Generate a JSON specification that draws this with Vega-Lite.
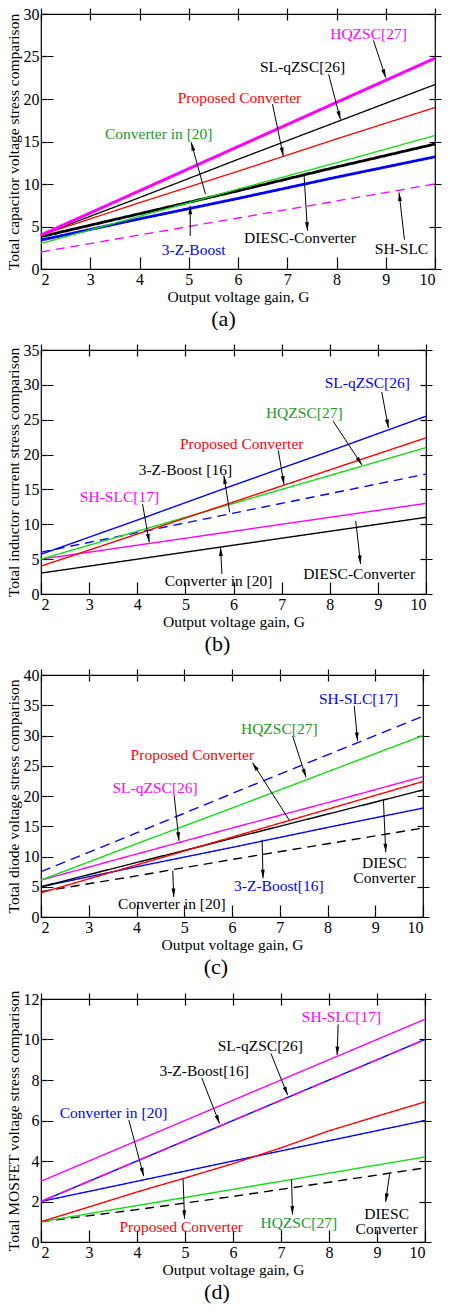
{
  "$schema": "https://vega.github.io/schema/vega-lite/v6.json",
  "padding": {"left": 5, "top": 5, "right": 5, "bottom": 5},
  "background": "white",
  "config": {
    "font": "Liberation Serif",
    "view": {"stroke": "black", "strokeWidth": 1.2},
    "axis": {"domain": false, "tickColor": "black", "tickSize": 6, "offset": -6, "tickWidth": 1.2, "gridColor": "black", "gridWidth": 1.2, "gridOpacity": 1, "labelFont": "Liberation Serif", "labelFontSize": 16, "labelColor": "black", "titleFont": "Liberation Serif", "titleFontSize": 15.5, "titleFontWeight": "normal", "titleColor": "black", "labelPadding": 2, "titlePadding": 2},
    "title": {"font": "Liberation Serif", "fontSize": 22, "fontWeight": "normal", "color": "black", "orient": "bottom", "anchor": "middle", "frame": "bounds", "offset": 4},
    "concat": {"spacing": 10}
  },
  "datasets": {
    "a_lines": [
      {"s": "SH-SLC", "G": 2, "v": 2}, {"s": "SH-SLC", "G": 4, "v": 4}, {"s": "SH-SLC", "G": 6, "v": 6}, {"s": "SH-SLC", "G": 8, "v": 8}, {"s": "SH-SLC", "G": 10, "v": 10},
      {"s": "3-Z-Boost", "G": 2, "v": 3.4}, {"s": "3-Z-Boost", "G": 4, "v": 5.9}, {"s": "3-Z-Boost", "G": 6, "v": 8.3}, {"s": "3-Z-Boost", "G": 8, "v": 10.8}, {"s": "3-Z-Boost", "G": 10, "v": 13.2},
      {"s": "DIESC", "G": 2, "v": 3.8}, {"s": "DIESC", "G": 4, "v": 6.5}, {"s": "DIESC", "G": 6, "v": 9.2}, {"s": "DIESC", "G": 8, "v": 12.0}, {"s": "DIESC", "G": 10, "v": 14.7},
      {"s": "Conv20", "G": 2, "v": 3.0}, {"s": "Conv20", "G": 4, "v": 6.2}, {"s": "Conv20", "G": 6, "v": 9.4}, {"s": "Conv20", "G": 8, "v": 12.5}, {"s": "Conv20", "G": 10, "v": 15.7},
      {"s": "Proposed", "G": 2, "v": 4.0}, {"s": "Proposed", "G": 4, "v": 7.8}, {"s": "Proposed", "G": 6, "v": 11.5}, {"s": "Proposed", "G": 8, "v": 15.3}, {"s": "Proposed", "G": 10, "v": 19.0},
      {"s": "SL-qZSC", "G": 2, "v": 4.0}, {"s": "SL-qZSC", "G": 4, "v": 8.4}, {"s": "SL-qZSC", "G": 6, "v": 12.9}, {"s": "SL-qZSC", "G": 8, "v": 17.3}, {"s": "SL-qZSC", "G": 10, "v": 21.7},
      {"s": "HQZSC", "G": 2, "v": 4.0}, {"s": "HQZSC", "G": 4, "v": 9.2}, {"s": "HQZSC", "G": 6, "v": 14.4}, {"s": "HQZSC", "G": 8, "v": 19.6}, {"s": "HQZSC", "G": 10, "v": 24.8}
    ],
    "a_ann": [
      {"lab": "HQZSC[27]", "lx": 8.65, "ly": 27.7, "x1": 8.75, "y1": 26.9, "x2": 9.0, "y2": 22.5},
      {"lab": "SL-qZSC[26]", "lx": 7.31, "ly": 23.8, "x1": 7.84, "y1": 22.9, "x2": 8.08, "y2": 17.6},
      {"lab": "Proposed Converter", "lx": 6.03, "ly": 20.1, "x1": 6.70, "y1": 19.4, "x2": 6.92, "y2": 13.3},
      {"lab": "Converter in [20]", "lx": 4.39, "ly": 15.9, "x1": 5.34, "y1": 8.8, "x2": 5.05, "y2": 14.9},
      {"lab": "3-Z-Boost", "lx": 5.1, "ly": 2.2, "x1": 5.03, "y1": 3.9, "x2": 5.03, "y2": 7.45},
      {"lab": "DIESC-Converter", "lx": 7.26, "ly": 3.65, "x1": 7.34, "y1": 11.2, "x2": 7.41, "y2": 4.5},
      {"lab": "SH-SLC", "lx": 9.32, "ly": 2.4, "x1": 9.38, "y1": 3.45, "x2": 9.27, "y2": 9.0}
    ],
    "b_lines": [
      {"s": "Conv20", "G": 2, "v": 3}, {"s": "Conv20", "G": 4, "v": 5}, {"s": "Conv20", "G": 6, "v": 7}, {"s": "Conv20", "G": 8, "v": 9}, {"s": "Conv20", "G": 10, "v": 11},
      {"s": "SH-SLC", "G": 2, "v": 5}, {"s": "SH-SLC", "G": 4, "v": 7}, {"s": "SH-SLC", "G": 6, "v": 9}, {"s": "SH-SLC", "G": 8, "v": 11}, {"s": "SH-SLC", "G": 10, "v": 13},
      {"s": "3-Z-Boost", "G": 2, "v": 6.0}, {"s": "3-Z-Boost", "G": 4, "v": 8.8}, {"s": "3-Z-Boost", "G": 6, "v": 11.6}, {"s": "3-Z-Boost", "G": 8, "v": 14.4}, {"s": "3-Z-Boost", "G": 10, "v": 17.2},
      {"s": "HQZSC", "G": 2, "v": 5.0}, {"s": "HQZSC", "G": 4, "v": 9.0}, {"s": "HQZSC", "G": 6, "v": 13.0}, {"s": "HQZSC", "G": 8, "v": 17.0}, {"s": "HQZSC", "G": 10, "v": 21.0},
      {"s": "Proposed", "G": 2, "v": 4.0}, {"s": "Proposed", "G": 4, "v": 8.6}, {"s": "Proposed", "G": 6, "v": 13.2}, {"s": "Proposed", "G": 8, "v": 17.8}, {"s": "Proposed", "G": 10, "v": 22.4},
      {"s": "SL-qZSC", "G": 2, "v": 5.7}, {"s": "SL-qZSC", "G": 4, "v": 10.6}, {"s": "SL-qZSC", "G": 6, "v": 15.6}, {"s": "SL-qZSC", "G": 8, "v": 20.5}, {"s": "SL-qZSC", "G": 10, "v": 25.5}
    ],
    "b_ann": [
      {"lab": "SL-qZSC[26]", "lx": 8.78, "ly": 30.2, "x1": 9.08, "y1": 29.0, "x2": 9.22, "y2": 23.8},
      {"lab": "HQZSC[27]", "lx": 7.47, "ly": 25.9, "x1": 8.07, "y1": 24.8, "x2": 8.67, "y2": 18.5},
      {"lab": "Proposed Converter", "lx": 6.17, "ly": 21.5, "x1": 6.93, "y1": 20.6, "x2": 7.05, "y2": 15.7},
      {"lab": "3-Z-Boost [16]", "lx": 5.0, "ly": 17.8, "x1": 5.92, "y1": 11.7, "x2": 5.80, "y2": 17.0},
      {"lab": "SH-SLC[17]", "lx": 3.63, "ly": 13.9, "x1": 4.11, "y1": 12.9, "x2": 4.25, "y2": 7.4},
      {"lab": "Converter in [20]", "lx": 5.69, "ly": 1.9, "x1": 5.76, "y1": 2.87, "x2": 5.73, "y2": 6.7},
      {"lab": "DIESC-Converter", "lx": 8.61, "ly": 2.87, "x1": 8.54, "y1": 10.5, "x2": 8.64, "y2": 4.3}
    ],
    "c_lines": [
      {"s": "Conv20", "G": 2, "v": 4.2}, {"s": "Conv20", "G": 4, "v": 6.8}, {"s": "Conv20", "G": 6, "v": 9.5}, {"s": "Conv20", "G": 8, "v": 12.1}, {"s": "Conv20", "G": 10, "v": 14.7},
      {"s": "3-Z-Boost", "G": 2, "v": 5.0}, {"s": "3-Z-Boost", "G": 4, "v": 8.3}, {"s": "3-Z-Boost", "G": 6, "v": 11.5}, {"s": "3-Z-Boost", "G": 8, "v": 14.8}, {"s": "3-Z-Boost", "G": 10, "v": 18.0},
      {"s": "DIESC", "G": 2, "v": 5}, {"s": "DIESC", "G": 4, "v": 9}, {"s": "DIESC", "G": 6, "v": 13}, {"s": "DIESC", "G": 8, "v": 17}, {"s": "DIESC", "G": 10, "v": 21},
      {"s": "Proposed", "G": 2, "v": 4.0}, {"s": "Proposed", "G": 4, "v": 8.6}, {"s": "Proposed", "G": 6, "v": 13.2}, {"s": "Proposed", "G": 8, "v": 17.8}, {"s": "Proposed", "G": 10, "v": 22.4},
      {"s": "SL-qZSC", "G": 2, "v": 6.1}, {"s": "SL-qZSC", "G": 4, "v": 10.4}, {"s": "SL-qZSC", "G": 6, "v": 14.7}, {"s": "SL-qZSC", "G": 8, "v": 18.9}, {"s": "SL-qZSC", "G": 10, "v": 23.2},
      {"s": "HQZSC", "G": 2, "v": 6.1}, {"s": "HQZSC", "G": 4, "v": 12.1}, {"s": "HQZSC", "G": 6, "v": 18.0}, {"s": "HQZSC", "G": 8, "v": 24.0}, {"s": "HQZSC", "G": 10, "v": 30.0},
      {"s": "SH-SLC", "G": 2, "v": 7.5}, {"s": "SH-SLC", "G": 4, "v": 13.9}, {"s": "SH-SLC", "G": 6, "v": 20.4}, {"s": "SH-SLC", "G": 8, "v": 26.8}, {"s": "SH-SLC", "G": 10, "v": 33.2}
    ],
    "c_ann": [
      {"lab": "SH-SLC[17]", "lx": 8.65, "ly": 36.0, "x1": 8.56, "y1": 34.9, "x2": 8.63, "y2": 29.1},
      {"lab": "HQZSC[27]", "lx": 6.99, "ly": 31.1, "x1": 7.27, "y1": 29.9, "x2": 7.55, "y2": 23.1},
      {"lab": "Proposed Converter", "lx": 5.17, "ly": 26.7, "x1": 7.2, "y1": 16.0, "x2": 6.43, "y2": 25.5},
      {"lab": "SL-qZSC[26]", "lx": 4.39, "ly": 21.4, "x1": 4.79, "y1": 20.0, "x2": 4.89, "y2": 12.6},
      {"lab": "3-Z-Boost[16]", "lx": 6.98, "ly": 5.1, "x1": 6.63, "y1": 12.8, "x2": 6.65, "y2": 6.4},
      {"lab": "Converter in [20]", "lx": 4.74, "ly": 2.2, "x1": 4.76, "y1": 7.7, "x2": 4.78, "y2": 3.3},
      {"lab": "DIESC\nConverter", "lx": 9.19, "ly": 9.0, "x1": 9.17, "y1": 19.4, "x2": 9.22, "y2": 10.7}
    ],
    "d_lines": [
      {"s": "DIESC", "G": 2, "v": 1.0}, {"s": "DIESC", "G": 4, "v": 1.6}, {"s": "DIESC", "G": 6, "v": 2.25}, {"s": "DIESC", "G": 8, "v": 2.95}, {"s": "DIESC", "G": 10, "v": 3.66},
      {"s": "HQZSC", "G": 2, "v": 1.0}, {"s": "HQZSC", "G": 4, "v": 1.8}, {"s": "HQZSC", "G": 6, "v": 2.6}, {"s": "HQZSC", "G": 8, "v": 3.4}, {"s": "HQZSC", "G": 10, "v": 4.2},
      {"s": "Conv20", "G": 2, "v": 2}, {"s": "Conv20", "G": 4, "v": 3}, {"s": "Conv20", "G": 6, "v": 4}, {"s": "Conv20", "G": 8, "v": 5}, {"s": "Conv20", "G": 10, "v": 6},
      {"s": "Proposed", "G": 2, "v": 1.0}, {"s": "Proposed", "G": 3, "v": 1.73}, {"s": "Proposed", "G": 4, "v": 2.47}, {"s": "Proposed", "G": 5, "v": 3.16}, {"s": "Proposed", "G": 6, "v": 3.87}, {"s": "Proposed", "G": 7, "v": 4.65}, {"s": "Proposed", "G": 8, "v": 5.49}, {"s": "Proposed", "G": 9, "v": 6.21}, {"s": "Proposed", "G": 10, "v": 6.92},
      {"s": "3-Z-Boost", "G": 2, "v": 2}, {"s": "3-Z-Boost", "G": 4, "v": 4}, {"s": "3-Z-Boost", "G": 6, "v": 6}, {"s": "3-Z-Boost", "G": 8, "v": 8}, {"s": "3-Z-Boost", "G": 10, "v": 10},
      {"s": "SL-qZSC", "G": 2, "v": 2}, {"s": "SL-qZSC", "G": 4, "v": 4}, {"s": "SL-qZSC", "G": 6, "v": 6}, {"s": "SL-qZSC", "G": 8, "v": 8}, {"s": "SL-qZSC", "G": 10, "v": 10},
      {"s": "SH-SLC", "G": 2, "v": 3}, {"s": "SH-SLC", "G": 4, "v": 5}, {"s": "SH-SLC", "G": 6, "v": 7}, {"s": "SH-SLC", "G": 8, "v": 9}, {"s": "SH-SLC", "G": 10, "v": 11}
    ],
    "d_ann": [
      {"lab": "SH-SLC[17]", "lx": 8.26, "ly": 11.1, "x1": 8.19, "y1": 10.75, "x2": 8.17, "y2": 9.23},
      {"lab": "SL-qZSC[26]", "lx": 6.57, "ly": 9.68, "x1": 6.79, "y1": 9.31, "x2": 7.14, "y2": 7.25},
      {"lab": "3-Z-Boost[16]", "lx": 5.4, "ly": 8.44, "x1": 5.35, "y1": 8.1, "x2": 5.72, "y2": 5.85},
      {"lab": "Converter in [20]", "lx": 3.51, "ly": 6.38, "x1": 3.83, "y1": 6.02, "x2": 4.14, "y2": 3.25},
      {"lab": "Proposed Converter", "lx": 4.92, "ly": 0.74, "x1": 4.96, "y1": 3.13, "x2": 4.99, "y2": 1.15},
      {"lab": "HQZSC[27]", "lx": 7.37, "ly": 0.94, "x1": 7.22, "y1": 3.1, "x2": 7.24, "y2": 1.35},
      {"lab": "DIESC\nConverter", "lx": 9.2, "ly": 1.4, "x1": 9.27, "y1": 3.46, "x2": 9.18, "y2": 1.98}
    ]
  },
  "vconcat": [
    {
      "width": 394, "height": 255, "title": "(a)",
      "layer": [
        {"data": {"name": "a_lines"}, "mark": {"type": "line"},
         "encoding": {
           "x": {"field": "G", "type": "quantitative", "scale": {"domain": [2, 10], "nice": false}, "axis": {"title": "Output voltage gain, G", "values": [2, 3, 4, 5, 6, 7, 8, 9, 10], "orient": "bottom", "grid": true, "gridDash": [6, 243, 6, 3000]}},
           "y": {"field": "v", "type": "quantitative", "scale": {"domain": [0, 30], "nice": false}, "axis": {"title": "Total capacitor voltage stress comparison", "values": [0, 5, 10, 15, 20, 25, 30], "orient": "left", "grid": true, "gridDash": [6, 382, 6, 3000]}},
           "stroke": {"field": "s", "type": "nominal", "legend": null, "scale": {"domain": ["SH-SLC", "3-Z-Boost", "DIESC", "Conv20", "Proposed", "SL-qZSC", "HQZSC"], "range": ["#ff00ff", "#0000ff", "#000000", "#11dd11", "#ff0000", "#000000", "#ff00ff"]}},
           "strokeDash": {"field": "s", "type": "nominal", "legend": null, "scale": {"type": "ordinal", "domain": ["SH-SLC", "3-Z-Boost", "DIESC", "Conv20", "Proposed", "SL-qZSC", "HQZSC"], "range": [[9, 6], [1, 0], [1, 0], [1, 0], [1, 0], [1, 0], [1, 0]]}},
           "strokeWidth": {"field": "s", "type": "nominal", "legend": null, "scale": {"type": "ordinal", "domain": ["SH-SLC", "3-Z-Boost", "DIESC", "Conv20", "Proposed", "SL-qZSC", "HQZSC"], "range": [1.3, 2.8, 2.8, 1.3, 1.3, 1.3, 3]}}
         }},
        {"data": {"name": "a_ann"}, "mark": {"type": "rule", "color": "black", "strokeWidth": 1},
         "encoding": {"x": {"field": "x1", "type": "quantitative", "axis": null, "scale": {"domain": [2, 10], "nice": false}}, "y": {"field": "y1", "type": "quantitative", "axis": null, "scale": {"domain": [0, 30], "nice": false}}, "x2": {"field": "x2"}, "y2": {"field": "y2"}}},
        {"data": {"name": "a_ann"}, "transform": [{"calculate": "atan2((datum.x2-datum.x1)*49.25,(datum.y2-datum.y1)*8.5)*180/PI", "as": "ang"}],
         "mark": {"type": "point", "shape": "M0,0L-0.5,2.2L0.5,2.2Z", "filled": true, "color": "black", "size": 60, "opacity": 1},
         "encoding": {"x": {"field": "x2", "type": "quantitative", "axis": null, "scale": {"domain": [2, 10], "nice": false}}, "y": {"field": "y2", "type": "quantitative", "axis": null, "scale": {"domain": [0, 30], "nice": false}}, "angle": {"field": "ang", "type": "quantitative", "scale": null}}},
        {"data": {"name": "a_ann"}, "mark": {"type": "text", "align": "center", "baseline": "middle", "lineBreak": "\n", "font": "Liberation Serif", "fontSize": 15.5, "lineHeight": 16},
         "encoding": {
           "x": {"field": "lx", "type": "quantitative", "scale": {"domain": [2, 10], "nice": false}, "axis": {"orient": "top", "labels": false, "title": null, "values": [2, 3, 4, 5, 6, 7, 8, 9, 10]}},
           "y": {"field": "ly", "type": "quantitative", "scale": {"domain": [0, 30], "nice": false}, "axis": {"orient": "right", "labels": false, "title": null, "values": [0, 5, 10, 15, 20, 25, 30]}},
           "text": {"field": "lab"},
           "fill": {"field": "lab", "type": "nominal", "legend": null, "scale": {"domain": ["HQZSC[27]", "SL-qZSC[26]", "Proposed Converter", "Converter in [20]", "3-Z-Boost", "DIESC-Converter", "SH-SLC"], "range": ["#ff00ff", "#000000", "#ff0000", "#229922", "#0000ff", "#000000", "#000000"]}}
         }}
      ],
      "resolve": {"axis": {"x": "independent", "y": "independent"}}
    },
    {
      "width": 385, "height": 244, "title": "(b)",
      "layer": [
        {"data": {"name": "b_lines"}, "mark": {"type": "line"},
         "encoding": {
           "x": {"field": "G", "type": "quantitative", "scale": {"domain": [2, 10], "nice": false}, "axis": {"title": "Output voltage gain, G", "values": [2, 3, 4, 5, 6, 7, 8, 9, 10], "orient": "bottom", "grid": true, "gridDash": [6, 232, 6, 3000]}},
           "y": {"field": "v", "type": "quantitative", "scale": {"domain": [0, 35], "nice": false}, "axis": {"title": "Total inductor current stress comparison", "values": [0, 5, 10, 15, 20, 25, 30, 35], "orient": "left", "grid": true, "gridDash": [6, 373, 6, 3000]}},
           "stroke": {"field": "s", "type": "nominal", "legend": null, "scale": {"domain": ["Conv20", "SH-SLC", "3-Z-Boost", "HQZSC", "Proposed", "SL-qZSC"], "range": ["#000000", "#ff00ff", "#0000ff", "#11dd11", "#ff0000", "#0000ff"]}},
           "strokeDash": {"field": "s", "type": "nominal", "legend": null, "scale": {"type": "ordinal", "domain": ["Conv20", "SH-SLC", "3-Z-Boost", "HQZSC", "Proposed", "SL-qZSC"], "range": [[1, 0], [1, 0], [9, 6], [1, 0], [1, 0], [1, 0]]}},
           "strokeWidth": {"field": "s", "type": "nominal", "legend": null, "scale": {"type": "ordinal", "domain": ["Conv20", "SH-SLC", "3-Z-Boost", "HQZSC", "Proposed", "SL-qZSC"], "range": [1.4, 1.4, 1.4, 1.4, 1.4, 1.4]}}
         }},
        {"data": {"name": "b_ann"}, "mark": {"type": "rule", "color": "black", "strokeWidth": 1},
         "encoding": {"x": {"field": "x1", "type": "quantitative", "axis": null, "scale": {"domain": [2, 10], "nice": false}}, "y": {"field": "y1", "type": "quantitative", "axis": null, "scale": {"domain": [0, 35], "nice": false}}, "x2": {"field": "x2"}, "y2": {"field": "y2"}}},
        {"data": {"name": "b_ann"}, "transform": [{"calculate": "atan2((datum.x2-datum.x1)*48.1,(datum.y2-datum.y1)*6.97)*180/PI", "as": "ang"}],
         "mark": {"type": "point", "shape": "M0,0L-0.5,2.2L0.5,2.2Z", "filled": true, "color": "black", "size": 60, "opacity": 1},
         "encoding": {"x": {"field": "x2", "type": "quantitative", "axis": null, "scale": {"domain": [2, 10], "nice": false}}, "y": {"field": "y2", "type": "quantitative", "axis": null, "scale": {"domain": [0, 35], "nice": false}}, "angle": {"field": "ang", "type": "quantitative", "scale": null}}},
        {"data": {"name": "b_ann"}, "mark": {"type": "text", "align": "center", "baseline": "middle", "lineBreak": "\n", "font": "Liberation Serif", "fontSize": 15.5, "lineHeight": 16},
         "encoding": {
           "x": {"field": "lx", "type": "quantitative", "scale": {"domain": [2, 10], "nice": false}, "axis": {"orient": "top", "labels": false, "title": null, "values": [2, 3, 4, 5, 6, 7, 8, 9, 10]}},
           "y": {"field": "ly", "type": "quantitative", "scale": {"domain": [0, 35], "nice": false}, "axis": {"orient": "right", "labels": false, "title": null, "values": [0, 5, 10, 15, 20, 25, 30, 35]}},
           "text": {"field": "lab"},
           "fill": {"field": "lab", "type": "nominal", "legend": null, "scale": {"domain": ["SL-qZSC[26]", "HQZSC[27]", "Proposed Converter", "3-Z-Boost [16]", "SH-SLC[17]", "Converter in [20]", "DIESC-Converter"], "range": ["#0000ff", "#229922", "#ff0000", "#000000", "#ff00ff", "#000000", "#000000"]}}
         }}
      ],
      "resolve": {"axis": {"x": "independent", "y": "independent"}}
    },
    {
      "width": 382, "height": 242, "title": "(c)",
      "layer": [
        {"data": {"name": "c_lines"}, "mark": {"type": "line"},
         "encoding": {
           "x": {"field": "G", "type": "quantitative", "scale": {"domain": [2, 10], "nice": false}, "axis": {"title": "Output voltage gain, G", "values": [2, 3, 4, 5, 6, 7, 8, 9, 10], "orient": "bottom", "grid": true, "gridDash": [6, 230, 6, 3000]}},
           "y": {"field": "v", "type": "quantitative", "scale": {"domain": [0, 40], "nice": false}, "axis": {"title": "Total diode voltage stress comparison", "values": [0, 5, 10, 15, 20, 25, 30, 35, 40], "orient": "left", "grid": true, "gridDash": [6, 370, 6, 3000]}},
           "stroke": {"field": "s", "type": "nominal", "legend": null, "scale": {"domain": ["Conv20", "3-Z-Boost", "DIESC", "Proposed", "SL-qZSC", "HQZSC", "SH-SLC"], "range": ["#000000", "#0000ff", "#000000", "#ff0000", "#ff00ff", "#11dd11", "#0000ff"]}},
           "strokeDash": {"field": "s", "type": "nominal", "legend": null, "scale": {"type": "ordinal", "domain": ["Conv20", "3-Z-Boost", "DIESC", "Proposed", "SL-qZSC", "HQZSC", "SH-SLC"], "range": [[9, 6], [1, 0], [1, 0], [1, 0], [1, 0], [1, 0], [10, 6]]}},
           "strokeWidth": {"field": "s", "type": "nominal", "legend": null, "scale": {"type": "ordinal", "domain": ["Conv20", "3-Z-Boost", "DIESC", "Proposed", "SL-qZSC", "HQZSC", "SH-SLC"], "range": [1.4, 1.4, 1.4, 1.4, 1.4, 1.4, 1.4]}}
         }},
        {"data": {"name": "c_ann"}, "mark": {"type": "rule", "color": "black", "strokeWidth": 1},
         "encoding": {"x": {"field": "x1", "type": "quantitative", "axis": null, "scale": {"domain": [2, 10], "nice": false}}, "y": {"field": "y1", "type": "quantitative", "axis": null, "scale": {"domain": [0, 40], "nice": false}}, "x2": {"field": "x2"}, "y2": {"field": "y2"}}},
        {"data": {"name": "c_ann"}, "transform": [{"calculate": "atan2((datum.x2-datum.x1)*47.75,(datum.y2-datum.y1)*6.05)*180/PI", "as": "ang"}],
         "mark": {"type": "point", "shape": "M0,0L-0.5,2.2L0.5,2.2Z", "filled": true, "color": "black", "size": 60, "opacity": 1},
         "encoding": {"x": {"field": "x2", "type": "quantitative", "axis": null, "scale": {"domain": [2, 10], "nice": false}}, "y": {"field": "y2", "type": "quantitative", "axis": null, "scale": {"domain": [0, 40], "nice": false}}, "angle": {"field": "ang", "type": "quantitative", "scale": null}}},
        {"data": {"name": "c_ann"}, "mark": {"type": "text", "align": "center", "baseline": "middle", "lineBreak": "\n", "font": "Liberation Serif", "fontSize": 15.5, "lineHeight": 15},
         "encoding": {
           "x": {"field": "lx", "type": "quantitative", "scale": {"domain": [2, 10], "nice": false}, "axis": {"orient": "top", "labels": false, "title": null, "values": [2, 3, 4, 5, 6, 7, 8, 9, 10]}},
           "y": {"field": "ly", "type": "quantitative", "scale": {"domain": [0, 40], "nice": false}, "axis": {"orient": "right", "labels": false, "title": null, "values": [0, 5, 10, 15, 20, 25, 30, 35, 40]}},
           "text": {"field": "lab"},
           "fill": {"field": "lab", "type": "nominal", "legend": null, "scale": {"domain": ["SH-SLC[17]", "HQZSC[27]", "Proposed Converter", "SL-qZSC[26]", "3-Z-Boost[16]", "Converter in [20]", "DIESC\nConverter"], "range": ["#0000ff", "#229922", "#ff0000", "#ff00ff", "#0000ff", "#000000", "#000000"]}}
         }}
      ],
      "resolve": {"axis": {"x": "independent", "y": "independent"}}
    },
    {
      "width": 384, "height": 243, "title": "(d)",
      "layer": [
        {"data": {"name": "d_lines"}, "mark": {"type": "line"},
         "encoding": {
           "x": {"field": "G", "type": "quantitative", "scale": {"domain": [2, 10], "nice": false}, "axis": {"title": "Output voltage gain, G", "values": [2, 3, 4, 5, 6, 7, 8, 9, 10], "orient": "bottom", "grid": true, "gridDash": [6, 231, 6, 3000]}},
           "y": {"field": "v", "type": "quantitative", "scale": {"domain": [0, 12], "nice": false}, "axis": {"title": "Total MOSFET voltage stress comparison", "values": [0, 2, 4, 6, 8, 10, 12], "orient": "left", "grid": true, "gridDash": [6, 372, 6, 3000]}},
           "stroke": {"field": "s", "type": "nominal", "legend": null, "scale": {"domain": ["DIESC", "HQZSC", "Conv20", "Proposed", "3-Z-Boost", "SL-qZSC", "SH-SLC"], "range": ["#000000", "#11dd11", "#0000ff", "#ff0000", "#0000ff", "#ff00ff", "#ff00ff"]}},
           "strokeDash": {"field": "s", "type": "nominal", "legend": null, "scale": {"type": "ordinal", "domain": ["DIESC", "HQZSC", "Conv20", "Proposed", "3-Z-Boost", "SL-qZSC", "SH-SLC"], "range": [[9, 6], [1, 0], [1, 0], [1, 0], [1, 0], [14, 7], [1, 0]]}},
           "strokeWidth": {"field": "s", "type": "nominal", "legend": null, "scale": {"type": "ordinal", "domain": ["DIESC", "HQZSC", "Conv20", "Proposed", "3-Z-Boost", "SL-qZSC", "SH-SLC"], "range": [1.4, 1.4, 1.4, 1.4, 1.4, 1.4, 1.4]}}
         }},
        {"data": {"name": "d_ann"}, "mark": {"type": "rule", "color": "black", "strokeWidth": 1},
         "encoding": {"x": {"field": "x1", "type": "quantitative", "axis": null, "scale": {"domain": [2, 10], "nice": false}}, "y": {"field": "y1", "type": "quantitative", "axis": null, "scale": {"domain": [0, 12], "nice": false}}, "x2": {"field": "x2"}, "y2": {"field": "y2"}}},
        {"data": {"name": "d_ann"}, "transform": [{"calculate": "atan2((datum.x2-datum.x1)*48,(datum.y2-datum.y1)*20.25)*180/PI", "as": "ang"}],
         "mark": {"type": "point", "shape": "M0,0L-0.5,2.2L0.5,2.2Z", "filled": true, "color": "black", "size": 60, "opacity": 1},
         "encoding": {"x": {"field": "x2", "type": "quantitative", "axis": null, "scale": {"domain": [2, 10], "nice": false}}, "y": {"field": "y2", "type": "quantitative", "axis": null, "scale": {"domain": [0, 12], "nice": false}}, "angle": {"field": "ang", "type": "quantitative", "scale": null}}},
        {"data": {"name": "d_ann"}, "mark": {"type": "text", "align": "center", "baseline": "middle", "lineBreak": "\n", "font": "Liberation Serif", "fontSize": 15.5, "lineHeight": 15},
         "encoding": {
           "x": {"field": "lx", "type": "quantitative", "scale": {"domain": [2, 10], "nice": false}, "axis": {"orient": "top", "labels": false, "title": null, "values": [2, 3, 4, 5, 6, 7, 8, 9, 10]}},
           "y": {"field": "ly", "type": "quantitative", "scale": {"domain": [0, 12], "nice": false}, "axis": {"orient": "right", "labels": false, "title": null, "values": [0, 2, 4, 6, 8, 10, 12]}},
           "text": {"field": "lab"},
           "fill": {"field": "lab", "type": "nominal", "legend": null, "scale": {"domain": ["SH-SLC[17]", "SL-qZSC[26]", "3-Z-Boost[16]", "Converter in [20]", "Proposed Converter", "HQZSC[27]", "DIESC\nConverter"], "range": ["#ff00ff", "#000000", "#000000", "#0000ff", "#ff0000", "#229922", "#000000"]}}
         }}
      ],
      "resolve": {"axis": {"x": "independent", "y": "independent"}}
    }
  ],
  "resolve": {"scale": {"x": "independent", "y": "independent", "stroke": "independent", "strokeDash": "independent", "strokeWidth": "independent", "fill": "independent"}}
}
